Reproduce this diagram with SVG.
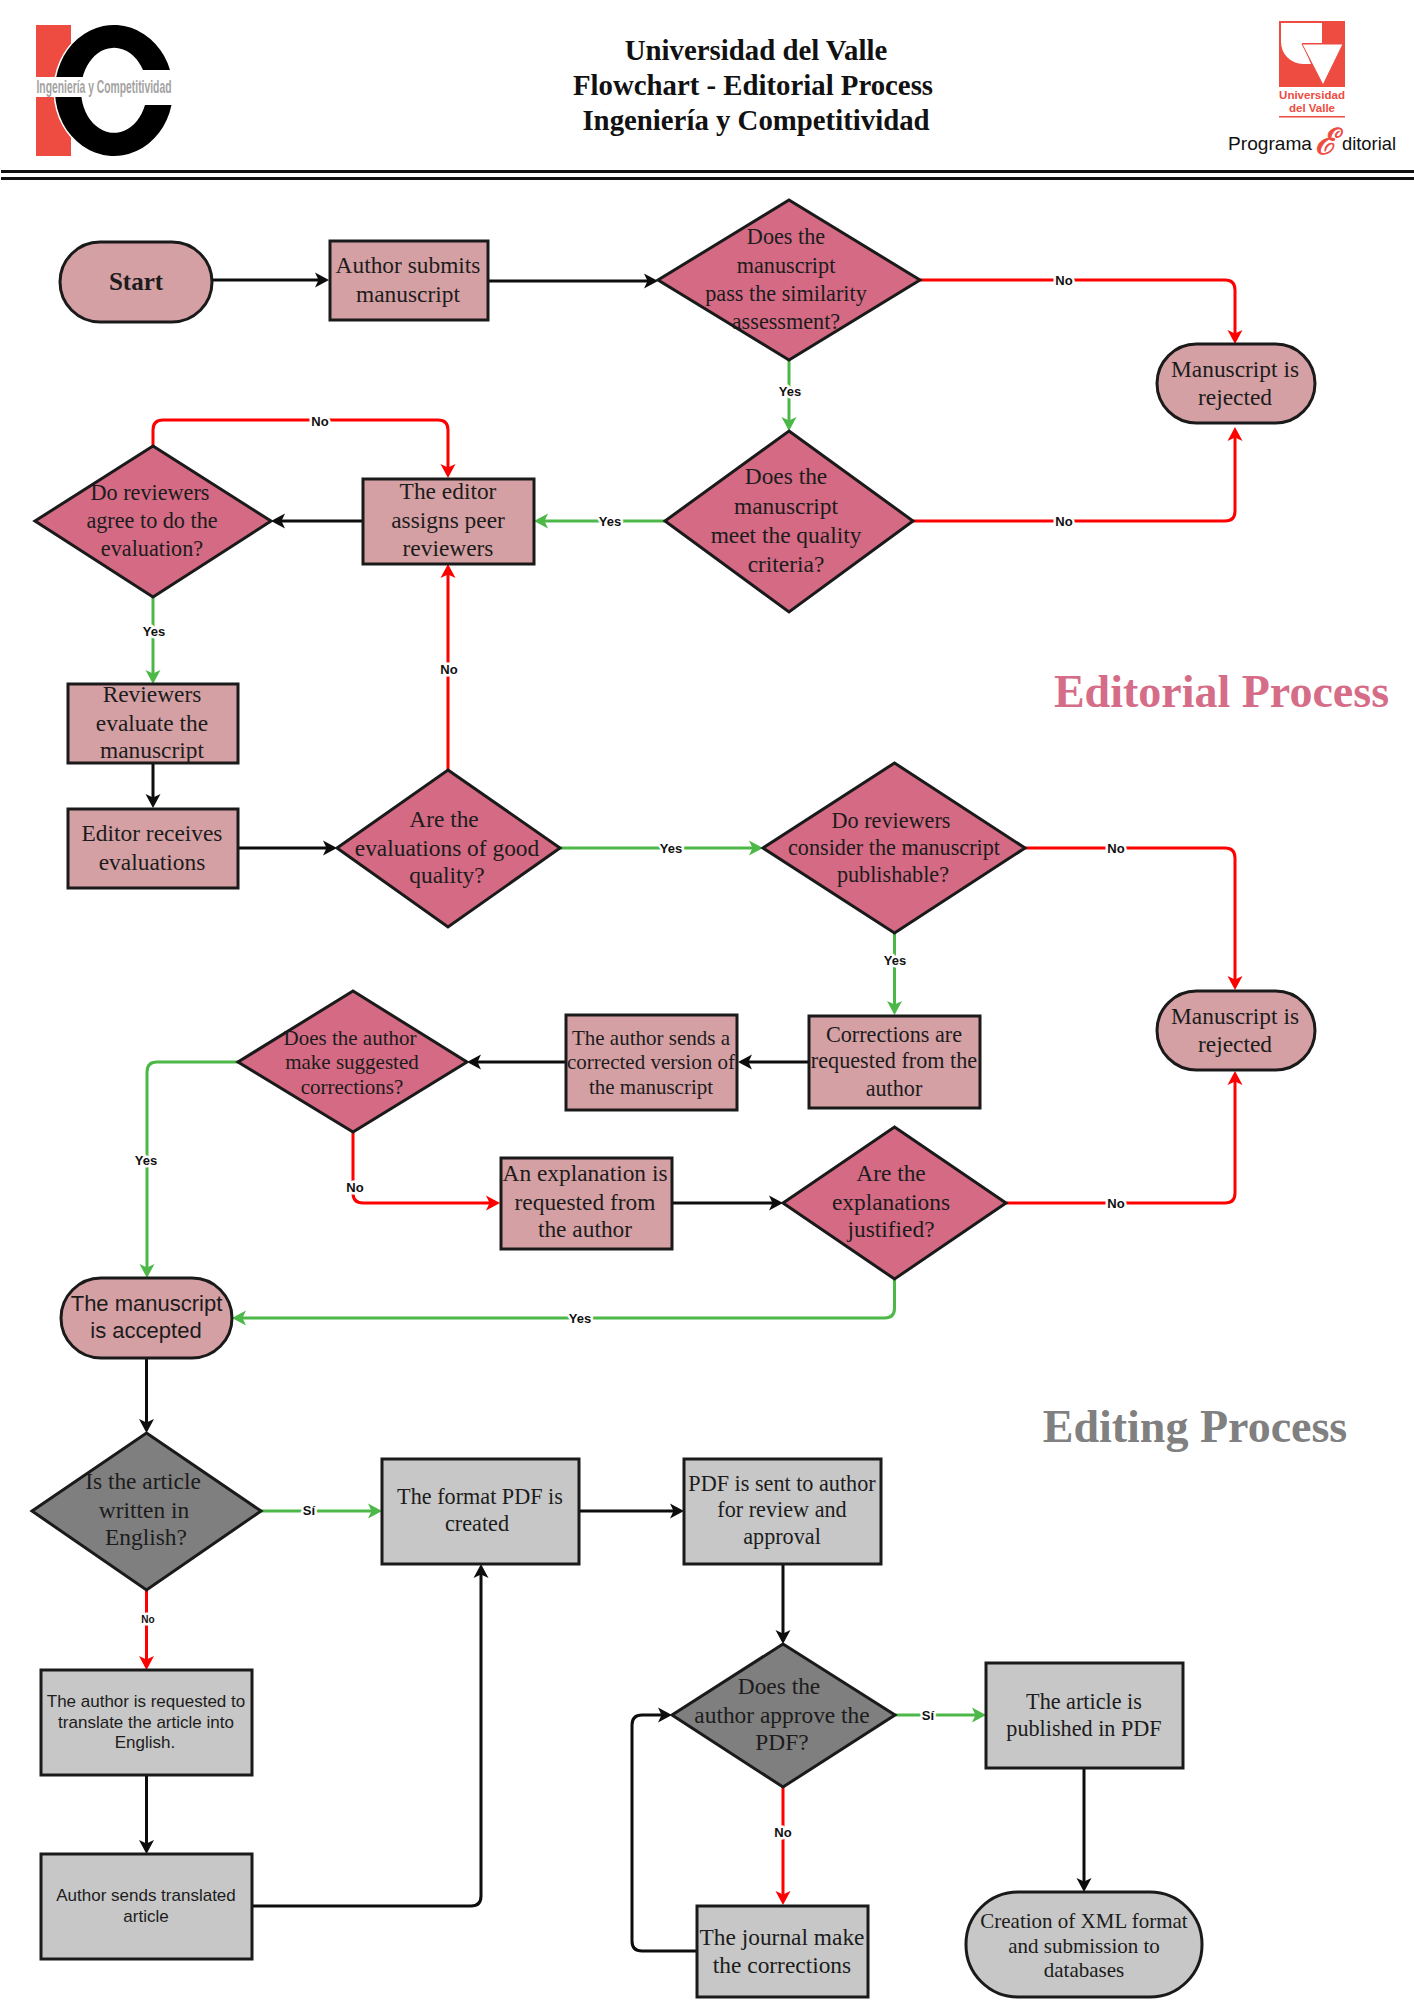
<svg xmlns="http://www.w3.org/2000/svg" width="1414" height="2000" viewBox="0 0 1414 2000">
  <defs>
    <style>
      .page { fill: #ffffff; }
      .node { stroke: #1a1a1a; stroke-width: 3; }
      .pink { fill: #d5a0a4; }
      .rose { fill: #d46a84; }
      .grey { fill: #c7c7c7; }
      .dark { fill: #7f7f7f; }
      .wire { fill: none; stroke-width: 3; }
      .black { stroke: #0d0d0d; }
      .red { stroke: #ff0000; }
      .green { stroke: #4cb848; }
      text { fill: #1c1c1c; text-anchor: middle; }
      .serif { font-family: "Liberation Serif", "Times New Roman", serif; font-size: 23.4px; }
      .s22 { font-size: 22.2px; }
      .s21 { font-size: 21px; }
      .sans { font-family: "Liberation Sans", Arial, sans-serif; font-size: 17px; }
      .sans22 { font-family: "Liberation Sans", Arial, sans-serif; font-size: 22px; }
      .tag { font-family: "Liberation Sans", Arial, sans-serif; font-size: 13px; font-weight: bold; fill: #111111; stroke: #ffffff; stroke-width: 5px; paint-order: stroke; stroke-linejoin: round; }
      .tiny { font-size: 10px; }
      .title { font-family: "Liberation Serif", "Times New Roman", serif; font-size: 28.8px; font-weight: bold; fill: #111111; }
      .section { font-family: "Liberation Serif", "Times New Roman", serif; font-size: 46px; font-weight: bold; }
    </style>
    <marker id="arrow-black" markerUnits="userSpaceOnUse" markerWidth="18" markerHeight="20" refX="10" refY="8" orient="auto"><path d="M14 8 L0 0.5 L3.5 8 L0 15.5 Z" fill="#0d0d0d"/></marker>
    <marker id="arrow-red" markerUnits="userSpaceOnUse" markerWidth="18" markerHeight="20" refX="10" refY="8" orient="auto"><path d="M14 8 L0 0.5 L3.5 8 L0 15.5 Z" fill="#ff0000"/></marker>
    <marker id="arrow-green" markerUnits="userSpaceOnUse" markerWidth="18" markerHeight="20" refX="10" refY="8" orient="auto"><path d="M14 8 L0 0.5 L3.5 8 L0 15.5 Z" fill="#4cb848"/></marker>
  </defs>

  <rect class="page" width="1414" height="2000"/>

  <!-- Header: journal mark -->
  <g id="logo-ic">
    <rect x="36" y="25" width="35" height="131" fill="#ee4b41"/>
    <path d="M170 70 A59 65.5 0 1 0 171.5 105 L145 105 A33 42.5 0 1 1 143 70 Z" fill="#000000" stroke="#ffffff" stroke-width="3" paint-order="stroke"/>
    <rect x="36" y="77" width="136" height="20" fill="#ffffff"/>
    <text x="104" y="93" font-family="'Liberation Sans', Arial, sans-serif" font-size="19" font-weight="bold" style="fill:#a3a3a3" textLength="135" lengthAdjust="spacingAndGlyphs">Ingeniería y Competitividad</text>
  </g>

  <!-- Header: title block -->
  <g id="header-title">
    <text class="title" x="756" y="60">Universidad del Valle</text>
    <text class="title" x="753" y="95">Flowchart - Editorial Process</text>
    <text class="title" x="756" y="130">Ingeniería y Competitividad</text>
  </g>

  <!-- Header: university mark -->
  <g id="logo-univalle">
    <rect x="1279" y="21" width="66" height="66" fill="#ee4b41"/>
    <path d="M1281 23 H1322 V43 H1302 L1311 64 H1303 A22 22 0 0 1 1281 42 Z" fill="#ffffff"/>
    <path d="M1302 44 H1343 L1323 85 Z" fill="#ffffff" stroke="#ee4b41" stroke-width="1"/>
    <text x="1312" y="99" font-family="'Liberation Sans', Arial, sans-serif" font-size="11.5" font-weight="bold" style="fill:#ee4b41">Universidad</text>
    <text x="1312" y="112" font-family="'Liberation Sans', Arial, sans-serif" font-size="11.5" font-weight="bold" style="fill:#ee4b41">del Valle</text>
    <rect x="1279" y="116" width="66" height="1.5" fill="#ee4b41"/>
    <text x="1270" y="150" font-family="'Liberation Sans', Arial, sans-serif" font-size="19" style="fill:#111111" textLength="84" lengthAdjust="spacingAndGlyphs">Programa</text>
    <text x="1326" y="154" font-family="'DejaVu Serif', 'Liberation Serif', serif" font-size="36" font-style="italic" style="fill:#ee4b41;stroke:#ee4b41;stroke-width:0.9px">ℰ</text>
    <text x="1369" y="150" font-family="'Liberation Sans', Arial, sans-serif" font-size="19" style="fill:#111111" textLength="54" lengthAdjust="spacingAndGlyphs">ditorial</text>
  </g>

  <!-- Header rule -->
  <g id="header-rule">
    <rect x="1" y="170" width="1413" height="3" fill="#111111"/>
    <rect x="1" y="177" width="1413" height="3" fill="#111111"/>
  </g>

  <!-- Section headings -->
  <text class="section" x="1221.5" y="707" style="fill:#d66d88">Editorial Process</text>
  <text class="section" x="1195" y="1442" style="fill:#808080">Editing Process</text>

  <!-- Connectors -->
  <g id="connectors">
    <path class="wire black" marker-end="url(#arrow-black)" d="M212 280 H325"/>
    <path class="wire black" marker-end="url(#arrow-black)" d="M488 281 H654"/>
    <path class="wire red" marker-end="url(#arrow-red)" d="M920 280 H1225 Q1235 280 1235 290 V340"/>
    <path class="wire green" marker-end="url(#arrow-green)" d="M789 360 V427"/>
    <path class="wire red" marker-end="url(#arrow-red)" d="M913 521 H1225 Q1235 521 1235 511 V431"/>
    <path class="wire green" marker-end="url(#arrow-green)" d="M665 521 H538"/>
    <path class="wire black" marker-end="url(#arrow-black)" d="M362 521 H275"/>
    <path class="wire red" marker-end="url(#arrow-red)" d="M153 446 V430 Q153 420 163 420 H438 Q448 420 448 430 V474"/>
    <path class="wire green" marker-end="url(#arrow-green)" d="M153 597 V680"/>
    <path class="wire black" marker-end="url(#arrow-black)" d="M153 763 V804"/>
    <path class="wire black" marker-end="url(#arrow-black)" d="M238 848 H333"/>
    <path class="wire red" marker-end="url(#arrow-red)" d="M448 770 V568"/>
    <path class="wire green" marker-end="url(#arrow-green)" d="M560 848 H759"/>
    <path class="wire red" marker-end="url(#arrow-red)" d="M1025 848 H1225 Q1235 848 1235 858 V986"/>
    <path class="wire green" marker-end="url(#arrow-green)" d="M894.5 933 V1011"/>
    <path class="wire black" marker-end="url(#arrow-black)" d="M808 1062 H742"/>
    <path class="wire black" marker-end="url(#arrow-black)" d="M566 1062 H471"/>
    <path class="wire green" marker-end="url(#arrow-green)" d="M238 1062 H157 Q147 1062 147 1072 V1274"/>
    <path class="wire red" marker-end="url(#arrow-red)" d="M353 1132 V1193 Q353 1203 363 1203 H496"/>
    <path class="wire black" marker-end="url(#arrow-black)" d="M672 1203 H779"/>
    <path class="wire red" marker-end="url(#arrow-red)" d="M1006 1203 H1225 Q1235 1203 1235 1193 V1075"/>
    <path class="wire green" marker-end="url(#arrow-green)" d="M894.5 1279 V1308 Q894.5 1318 884.5 1318 H236"/>
    <path class="wire black" marker-end="url(#arrow-black)" d="M146.5 1358 V1429"/>
    <path class="wire green" marker-end="url(#arrow-green)" d="M261 1511 H378"/>
    <path class="wire red" marker-end="url(#arrow-red)" d="M146.5 1590 V1666"/>
    <path class="wire black" marker-end="url(#arrow-black)" d="M146.5 1775 V1850"/>
    <path class="wire black" marker-end="url(#arrow-black)" d="M252 1906 H471 Q481 1906 481 1896 V1568"/>
    <path class="wire black" marker-end="url(#arrow-black)" d="M579 1511 H680"/>
    <path class="wire black" marker-end="url(#arrow-black)" d="M783 1564 V1640"/>
    <path class="wire green" marker-end="url(#arrow-green)" d="M895 1715 H982"/>
    <path class="wire red" marker-end="url(#arrow-red)" d="M783 1787 V1901"/>
    <path class="wire black" marker-end="url(#arrow-black)" d="M697 1951 H642 Q632 1951 632 1941 V1725 Q632 1715 642 1715 H668"/>
    <path class="wire black" marker-end="url(#arrow-black)" d="M1084 1768 V1888"/>

    <text class="tag" x="1064" y="285">No</text>
    <text class="tag" x="790" y="396">Yes</text>
    <text class="tag" x="1064" y="526">No</text>
    <text class="tag" x="610" y="526">Yes</text>
    <text class="tag" x="320" y="426">No</text>
    <text class="tag" x="154" y="636">Yes</text>
    <text class="tag" x="449" y="674">No</text>
    <text class="tag" x="671" y="853">Yes</text>
    <text class="tag" x="1116" y="853">No</text>
    <text class="tag" x="895" y="965">Yes</text>
    <text class="tag" x="146" y="1165">Yes</text>
    <text class="tag" x="355" y="1192">No</text>
    <text class="tag" x="1116" y="1208">No</text>
    <text class="tag" x="580" y="1323">Yes</text>
    <text class="tag" x="309" y="1515">Sí</text>
    <text class="tag tiny" x="148" y="1623">No</text>
    <text class="tag" x="928" y="1720">Sí</text>
    <text class="tag" x="783" y="1837">No</text>
  </g>

  <!-- Editorial process nodes -->
  <g id="start">
    <rect class="node pink" x="60" y="242" width="152" height="80" rx="40"/>
    <text class="serif" x="136" y="290" style="font-size:25px;font-weight:bold">Start</text>
  </g>
  <g id="author-submits">
    <rect class="node pink" x="330" y="241" width="158" height="79"/>
    <text class="serif"><tspan x="408" y="273">Author submits</tspan><tspan x="408" y="302">manuscript</tspan></text>
  </g>
  <g id="similarity-check">
    <polygon class="node rose" points="789,200 920,280 789,360 658,280"/>
    <text class="serif s22"><tspan x="786" y="244">Does the</tspan><tspan x="786" y="273">manuscript</tspan><tspan x="786" y="301">pass the similarity</tspan><tspan x="786" y="329">assessment?</tspan></text>
  </g>
  <g id="rejected-early">
    <rect class="node pink" x="1157" y="344" width="158" height="79" rx="39.5"/>
    <text class="serif"><tspan x="1235" y="377">Manuscript is</tspan><tspan x="1235" y="405">rejected</tspan></text>
  </g>
  <g id="quality-check">
    <polygon class="node rose" points="789,431 913,521 789,612 665,521"/>
    <text class="serif"><tspan x="786" y="484">Does the</tspan><tspan x="786" y="514">manuscript</tspan><tspan x="786" y="543">meet the quality</tspan><tspan x="786" y="572">criteria?</tspan></text>
  </g>
  <g id="assign-reviewers">
    <rect class="node pink" x="363" y="479" width="171" height="85"/>
    <text class="serif"><tspan x="448" y="499">The editor</tspan><tspan x="448" y="528">assigns peer</tspan><tspan x="448" y="556">reviewers</tspan></text>
  </g>
  <g id="reviewers-agree">
    <polygon class="node rose" points="153,446 271,521 153,597 35,521"/>
    <text class="serif s22"><tspan x="150" y="500">Do reviewers</tspan><tspan x="152" y="528">agree to do the</tspan><tspan x="152" y="556">evaluation?</tspan></text>
  </g>
  <g id="reviewers-evaluate">
    <rect class="node pink" x="68" y="684" width="170" height="79"/>
    <text class="serif"><tspan x="152" y="702">Reviewers</tspan><tspan x="152" y="731">evaluate the</tspan><tspan x="152" y="758">manuscript</tspan></text>
  </g>
  <g id="editor-receives">
    <rect class="node pink" x="68" y="809" width="170" height="79"/>
    <text class="serif"><tspan x="152" y="841">Editor receives</tspan><tspan x="152" y="870">evaluations</tspan></text>
  </g>
  <g id="evaluation-quality">
    <polygon class="node rose" points="448,770 560,848 448,927 337,848"/>
    <text class="serif"><tspan x="444" y="827">Are the</tspan><tspan x="447" y="856">evaluations of good</tspan><tspan x="447" y="883">quality?</tspan></text>
  </g>
  <g id="publishable">
    <polygon class="node rose" points="894.5,763 1025,848 894.5,933 763,848"/>
    <text class="serif s22"><tspan x="891" y="828">Do reviewers</tspan><tspan x="894" y="855">consider the manuscript</tspan><tspan x="893" y="882">publishable?</tspan></text>
  </g>
  <g id="rejected-late">
    <rect class="node pink" x="1157" y="991" width="158" height="79" rx="39.5"/>
    <text class="serif"><tspan x="1235" y="1024">Manuscript is</tspan><tspan x="1235" y="1052">rejected</tspan></text>
  </g>
  <g id="corrections-requested">
    <rect class="node pink" x="809" y="1016" width="171" height="92"/>
    <text class="serif s22"><tspan x="894" y="1042">Corrections are</tspan><tspan x="894" y="1068">requested from the</tspan><tspan x="894" y="1096">author</tspan></text>
  </g>
  <g id="corrected-version">
    <rect class="node pink" x="566" y="1015" width="171" height="95"/>
    <text class="serif s21"><tspan x="651" y="1045">The author sends a</tspan><tspan x="651" y="1069">corrected version of</tspan><tspan x="651" y="1094">the manuscript</tspan></text>
  </g>
  <g id="suggested-corrections">
    <polygon class="node rose" points="353,991 467,1062 353,1132 238,1062"/>
    <text class="serif s21"><tspan x="350" y="1045">Does the author</tspan><tspan x="352" y="1069">make suggested</tspan><tspan x="352" y="1094">corrections?</tspan></text>
  </g>
  <g id="explanation-requested">
    <rect class="node pink" x="501" y="1158" width="171" height="91"/>
    <text class="serif"><tspan x="585" y="1181">An explanation is</tspan><tspan x="585" y="1210">requested from</tspan><tspan x="585" y="1237">the author</tspan></text>
  </g>
  <g id="explanations-justified">
    <polygon class="node rose" points="894.5,1127 1006,1203 894.5,1279 783,1203"/>
    <text class="serif"><tspan x="891" y="1181">Are the</tspan><tspan x="891" y="1210">explanations</tspan><tspan x="891" y="1237">justified?</tspan></text>
  </g>
  <g id="accepted">
    <rect class="node pink" x="61" y="1278" width="171" height="80" rx="40"/>
    <text class="sans22"><tspan x="146.5" y="1311">The manuscript</tspan><tspan x="146" y="1338">is accepted</tspan></text>
  </g>

  <!-- Editing process nodes -->
  <g id="written-in-english">
    <polygon class="node dark" points="146.5,1433 261,1511 146.5,1590 32,1511"/>
    <text class="serif"><tspan x="143" y="1489">Is the article</tspan><tspan x="144" y="1518">written in</tspan><tspan x="146" y="1545">English?</tspan></text>
  </g>
  <g id="format-pdf">
    <rect class="node grey" x="382" y="1459" width="197" height="105"/>
    <text class="serif s22"><tspan x="480" y="1504">The format PDF is</tspan><tspan x="477" y="1531">created</tspan></text>
  </g>
  <g id="pdf-sent">
    <rect class="node grey" x="684" y="1459" width="197" height="105"/>
    <text class="serif s22"><tspan x="782" y="1491">PDF is sent to author</tspan><tspan x="782" y="1517">for review and</tspan><tspan x="782" y="1544">approval</tspan></text>
  </g>
  <g id="translation-requested">
    <rect class="node grey" x="41" y="1670" width="211" height="105"/>
    <text class="sans"><tspan x="146" y="1707">The author is requested to</tspan><tspan x="146" y="1728">translate the article into</tspan><tspan x="145" y="1748">English.</tspan></text>
  </g>
  <g id="translated-article">
    <rect class="node grey" x="41" y="1854" width="211" height="105"/>
    <text class="sans"><tspan x="146" y="1901">Author sends translated</tspan><tspan x="146" y="1922">article</tspan></text>
  </g>
  <g id="author-approves">
    <polygon class="node dark" points="783,1644 895,1715 783,1787 672,1715"/>
    <text class="serif"><tspan x="779" y="1694">Does the</tspan><tspan x="782" y="1723">author approve the</tspan><tspan x="782" y="1750">PDF?</tspan></text>
  </g>
  <g id="published">
    <rect class="node grey" x="986" y="1663" width="197" height="105"/>
    <text class="serif s22"><tspan x="1084" y="1709">The article is</tspan><tspan x="1084" y="1736">published in PDF</tspan></text>
  </g>
  <g id="journal-corrections">
    <rect class="node grey" x="697" y="1906" width="171" height="91"/>
    <text class="serif"><tspan x="782" y="1945">The journal make</tspan><tspan x="782" y="1973">the corrections</tspan></text>
  </g>
  <g id="xml-submission">
    <rect class="node grey" x="966" y="1892" width="236" height="105" rx="52"/>
    <text class="serif s21"><tspan x="1084" y="1928">Creation of XML format</tspan><tspan x="1084" y="1953">and submission to</tspan><tspan x="1084" y="1977">databases</tspan></text>
  </g>
</svg>
